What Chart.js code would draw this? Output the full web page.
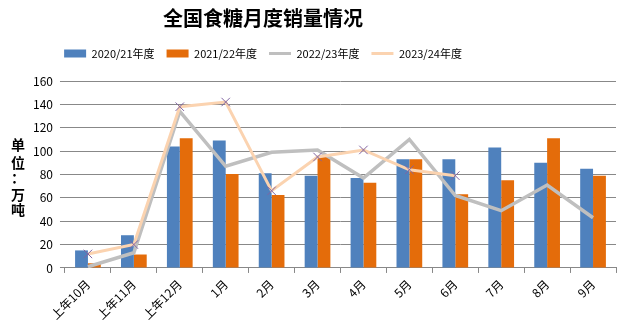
<!DOCTYPE html>
<html>
<head>
<meta charset="utf-8">
<script src="https://cdn.jsdelivr.net/npm/chart.js@4"></script>
<style>
  body { margin: 0; background: #fff; }
  #wrap { width: 623px; height: 326px; }
</style>
</head>
<body>
<div id="wrap"><canvas id="c"></canvas></div>
<script>
// 月份
const months = ['上年10月', '上年11月', '上年12月', '1月', '2月', '3月', '4月', '5月', '6月', '7月', '8月', '9月'];
// 各年度销量（万吨）
const sales2021 = [15, 28, 104, 109, 81, 79, 77, 93, 93, 103, 90, 85];
const sales2122 = [4, 11.5, 111, 80.5, 62.5, 96, 73, 93, 63, 75, 111, 79];
const sales2223 = [1, 13, 134, 87, 99, 101, 77, 110, 62, 49, 71, 43];
const sales2324 = [12, 20, 138, 142, 66, 95, 101, 84, 79, null, null, null];
const seriesNames = ['2020/21年度', '2021/22年度', '2022/23年度', '2023/24年度'];
const unitChars = ['单', '位', '：', '万', '吨'];

const font = "'Noto Sans CJK SC', 'Noto Sans', sans-serif";

// 标题和图例在原图中偏左，纵轴标题竖排
const tweaks = {
  id: 'tweaks',
  beforeUpdate(chart) {
    const lg = chart.legend;
    if (lg && !lg._patched) {
      const fit = lg.fit;
      lg.fit = function () { fit.call(this); this.height += 12; };
      lg._patched = true;
    }
  },
  afterLayout(chart) {
    if (chart.legend) { chart.legend.left = 0; chart.legend.right = 526; }
    if (chart.titleBlock) { chart.titleBlock.left = 0; chart.titleBlock.right = 526; }
  },
  afterDraw(chart) {
    const ctx = chart.ctx;
    ctx.save();
    ctx.font = 'bold 14px ' + font;
    ctx.fillStyle = '#000';
    ctx.textAlign = 'center';
    ctx.textBaseline = 'middle';
    const ys = [145, 163, 178, 195, 210];
    unitChars.forEach((ch, i) => ctx.fillText(ch, 18, ys[i]));
    ctx.restore();
  }
};

new Chart(document.getElementById('c'), {
  type: 'bar',
  data: {
    labels: months,
    datasets: [
      { type: 'line', label: seriesNames[3], data: sales2324, borderColor: '#FBD3B0', backgroundColor: '#FBD3B0',
        borderWidth: 3, pointStyle: 'crossRot', pointRadius: 6, pointBorderColor: '#8064A2', pointBorderWidth: 1,
        tension: 0, order: 0 },
      { type: 'line', label: seriesNames[2], data: sales2223, borderColor: '#BFBFBF', backgroundColor: '#BFBFBF',
        borderWidth: 3.5, pointRadius: 0, tension: 0, order: 1 },
      { label: seriesNames[0], data: sales2021, backgroundColor: '#4F81BD', order: 2 },
      { label: seriesNames[1], data: sales2122, backgroundColor: '#E46C0A', order: 3 }
    ]
  },
  options: {
    responsive: true,
    maintainAspectRatio: false,
    animation: false,
    categoryPercentage: 0.56,
    barPercentage: 1,
    layout: { padding: { left: 26, right: 3, top: 2, bottom: 0 } },
    plugins: {
      title: {
        display: true, text: '全国食糖月度销量情况', color: '#000',
        font: { family: font, size: 20, weight: 'bold' }, padding: { top: 4, bottom: 6 }
      },
      legend: {
        position: 'top',
        labels: {
          color: '#000', font: { family: font, size: 11 }, usePointStyle: true, pointStyleWidth: 22, boxHeight: 8,
          padding: 12,
          sort: (a, b) => seriesNames.indexOf(a.text) - seriesNames.indexOf(b.text),
          generateLabels(chart) {
            const items = Chart.defaults.plugins.legend.labels.generateLabels(chart);
            items.forEach(it => {
              const ds = chart.data.datasets[it.datasetIndex];
              if (ds.type === 'line') { it.pointStyle = 'line'; it.lineWidth = 3; it.strokeStyle = ds.borderColor; }
              else { it.pointStyle = 'rect'; it.lineWidth = 0; }
            });
            return items;
          }
        }
      },
      tooltip: { enabled: false }
    },
    scales: {
      x: {
        grid: { display: true, drawOnChartArea: false, offset: true, tickLength: 5, color: '#888' },
        border: { color: '#888' },
        ticks: { color: '#000', font: { family: font, size: 12 }, minRotation: 45, maxRotation: 45, padding: 4 }
      },
      y: {
        min: 0, max: 160,
        ticks: { stepSize: 20, color: '#000', font: { family: font, size: 12 }, padding: 7 },
        grid: { color: '#888', tickLength: 5 },
        border: { display: false }
      }
    }
  },
  plugins: [tweaks]
});
</script>
</body>
</html>
